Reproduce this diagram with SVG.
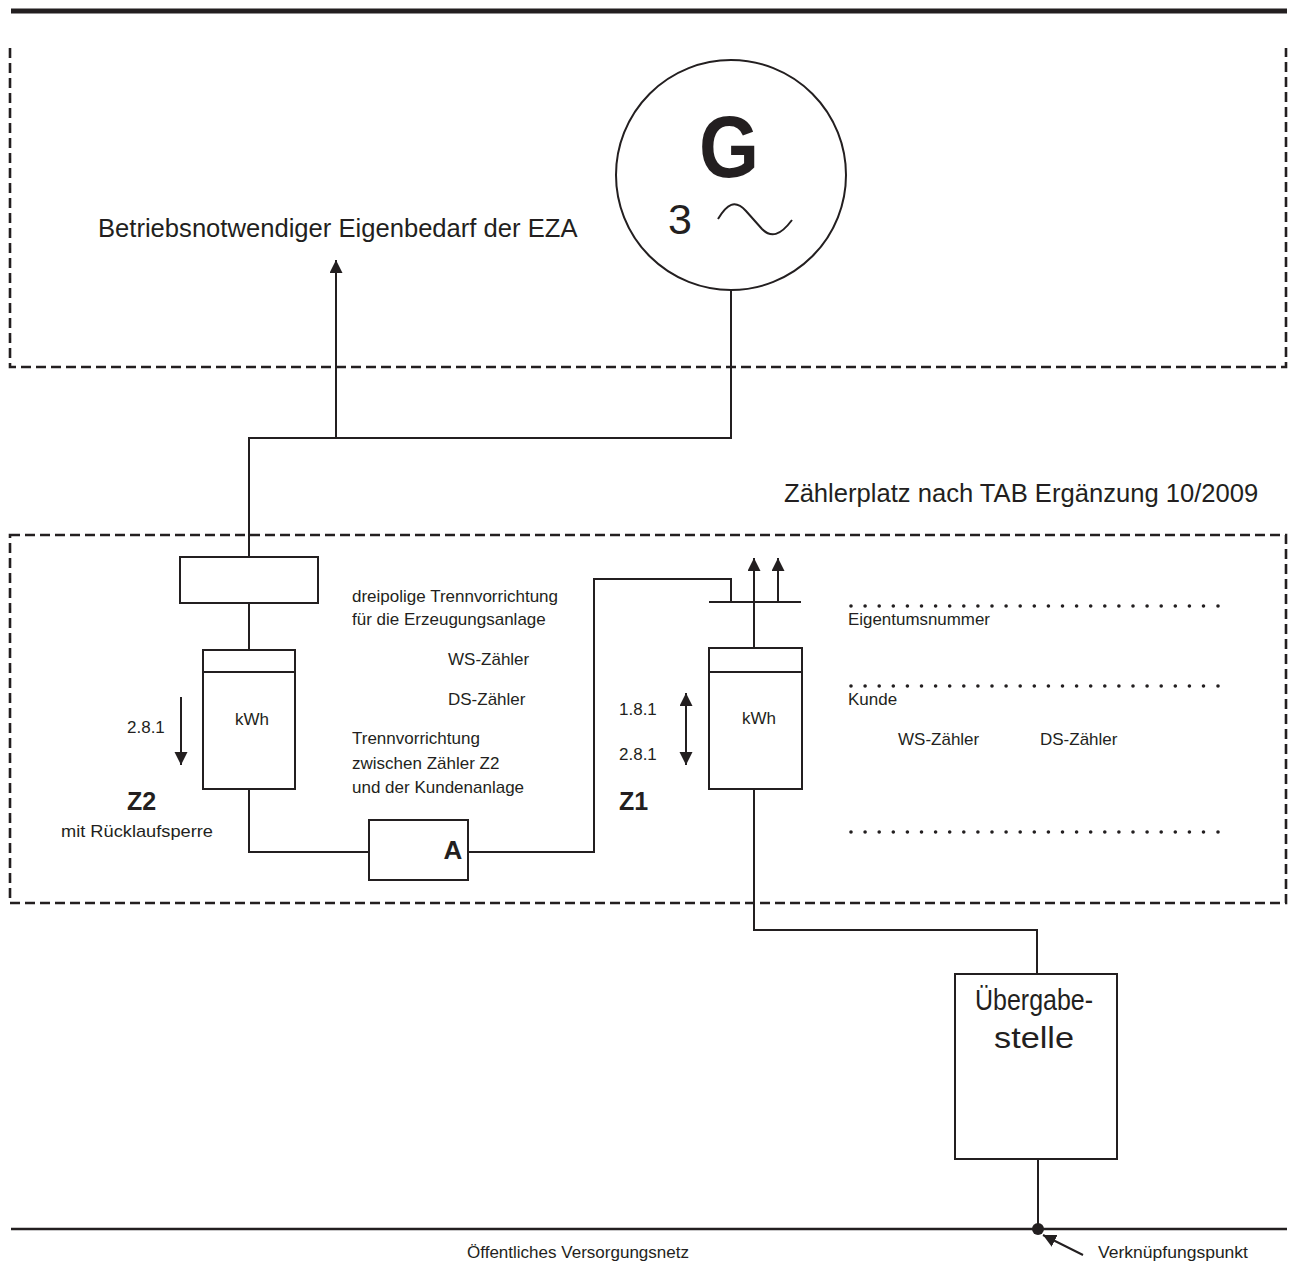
<svg xmlns="http://www.w3.org/2000/svg" width="1290" height="1264" viewBox="0 0 1290 1264">
<style>
text{font-family:"Liberation Sans",Arial,sans-serif;fill:#231f20}
.s{font-size:17px}
.b{font-weight:bold}
.ln{fill:none;stroke:#231f20;stroke-width:2}
.box{fill:#fff;stroke:#231f20;stroke-width:2}
.dash{fill:none;stroke:#231f20;stroke-width:2.6;stroke-dasharray:10 5}
.dots{fill:none;stroke:#231f20;stroke-width:3.6;stroke-linecap:round;stroke-dasharray:0 14.1}
</style>
<defs>
<marker id="ah" markerUnits="userSpaceOnUse" markerWidth="15" markerHeight="15" refX="13" refY="6.5" orient="auto">
<path d="M0,0 L13,6.5 L0,13 z" fill="#231f20"/>
</marker>
</defs>
<rect width="1290" height="1264" fill="#fff"/>
<line x1="11" y1="11" x2="1287" y2="11" stroke="#231f20" stroke-width="5"/>
<g id="frame-eza"><path class="dash" d="M10,48 V367 H1286 V48"/></g>
<g id="frame-zaehlerplatz"><rect class="dash" x="10" y="535" width="1276" height="368"/>
<text x="784" y="502" font-size="25.6">Zählerplatz nach TAB Ergänzung 10/2009</text></g>
<g id="connectors">
<path class="ln" d="M731,290 V438 H249 V557"/>
<path class="ln" d="M336,438 V260" marker-end="url(#ah)"/>
<path class="ln" d="M249,603 V650"/>
<path class="ln" d="M249,789 V852 H369"/>
<path class="ln" d="M468,852 H594 V579 H731 V602"/>
<path class="ln" d="M709,602 H801"/>
<path class="ln" d="M754,648 V558" marker-end="url(#ah)"/>
<path class="ln" d="M778,602 V558" marker-end="url(#ah)"/>
<path class="ln" d="M754,789 V930 H1037 V974"/>
<path class="ln" d="M1038,1159 V1229"/>
<line x1="11" y1="1229" x2="1287" y2="1229" stroke="#231f20" stroke-width="2.6"/>
<circle cx="1038" cy="1229" r="6" fill="#231f20"/>
<path class="ln" d="M1083,1255 L1043,1235" marker-end="url(#ah)"/>
<path class="ln" d="M181,697 V765" marker-end="url(#ah)"/>
<path class="ln" d="M686,729 V693" marker-end="url(#ah)"/>
<path class="ln" d="M686,729 V765" marker-end="url(#ah)"/>
</g>
<g id="generator">
<circle cx="731" cy="175" r="115" fill="#fff" stroke="#231f20" stroke-width="2"/>
<text x="729" y="177" font-size="88" class="b" text-anchor="middle" textLength="60" lengthAdjust="spacingAndGlyphs">G</text>
<text x="668" y="234" font-size="43">3</text>
<path class="ln" d="M718,219 C727,204 735,199 746,211 L762,229 C771,238 780,236 792,220"/>
</g>
<g id="label-eigenbedarf"><text x="98" y="237" font-size="25.6">Betriebsnotwendiger Eigenbedarf der EZA</text></g>
<g id="trennvorrichtung-eza"><rect class="box" x="180" y="557" width="138" height="46"/></g>
<g id="zaehler-z2">
<rect class="box" x="203" y="650" width="92" height="139"/>
<line class="ln" x1="203" y1="672" x2="295" y2="672"/>
<text x="252" y="725" class="s" text-anchor="middle">kWh</text>
<text x="127" y="733" class="s">2.8.1</text>
<text x="127" y="810" font-size="25" class="b">Z2</text>
<text x="61" y="837" class="s" textLength="152" lengthAdjust="spacingAndGlyphs">mit Rücklaufsperre</text>
</g>
<g id="texts-middle" class="s">
<text x="352" y="602" class="s">dreipolige Trennvorrichtung</text>
<text x="352" y="625" class="s">für die Erzeugungsanlage</text>
<text x="448" y="665" class="s">WS-Zähler</text>
<text x="448" y="705" class="s">DS-Zähler</text>
<text x="352" y="744" class="s">Trennvorrichtung</text>
<text x="352" y="769" class="s">zwischen Zähler Z2</text>
<text x="352" y="793" class="s">und der Kundenanlage</text>
</g>
<g id="trennvorrichtung-a">
<rect class="box" x="369" y="820" width="99" height="60"/>
<text x="453" y="859" font-size="26" class="b" text-anchor="middle">A</text>
</g>
<g id="zaehler-z1">
<rect class="box" x="709" y="648" width="93" height="141"/>
<line class="ln" x1="709" y1="672" x2="802" y2="672"/>
<text x="759" y="724" class="s" text-anchor="middle">kWh</text>
<text x="619" y="715" class="s">1.8.1</text>
<text x="619" y="760" class="s">2.8.1</text>
<text x="619" y="810" font-size="25" class="b">Z1</text>
</g>
<g id="beschriftungsfeld">
<line class="dots" x1="851" y1="606" x2="1205" y2="606"/>
<circle cx="1218" cy="606" r="1.8" fill="#231f20"/>
<line class="dots" x1="851" y1="686" x2="1205" y2="686"/>
<circle cx="1218" cy="686" r="1.8" fill="#231f20"/>
<line class="dots" x1="851" y1="832" x2="1205" y2="832"/>
<circle cx="1218" cy="832" r="1.8" fill="#231f20"/>
<text x="848" y="625" class="s" textLength="142" lengthAdjust="spacingAndGlyphs">Eigentumsnummer</text>
<text x="848" y="705" class="s">Kunde</text>
<text x="898" y="745" class="s">WS-Zähler</text>
<text x="1040" y="745" class="s">DS-Zähler</text>
</g>
<g id="uebergabestelle">
<rect class="box" x="955" y="974" width="162" height="185"/>
<text x="1034" y="1010" font-size="29" text-anchor="middle" textLength="118" lengthAdjust="spacingAndGlyphs">Übergabe-</text>
<text x="1034" y="1048" font-size="29" text-anchor="middle" textLength="80" lengthAdjust="spacingAndGlyphs">stelle</text>
</g>
<g id="netz">
<text x="467" y="1258" class="s" textLength="222" lengthAdjust="spacingAndGlyphs">Öffentliches Versorgungsnetz</text>
<text x="1098" y="1258" class="s" textLength="150" lengthAdjust="spacingAndGlyphs">Verknüpfungspunkt</text>
</g>
</svg>
